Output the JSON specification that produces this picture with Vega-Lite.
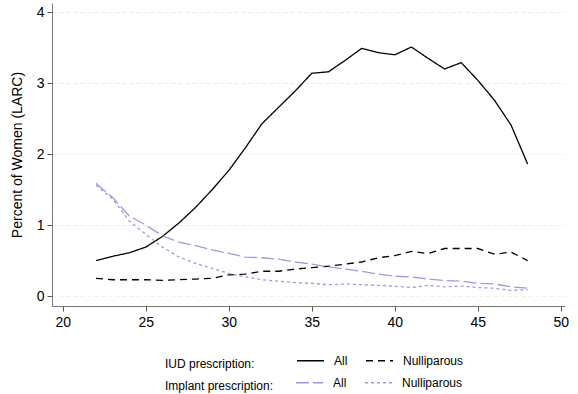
{
  "$schema": "https://vega.github.io/schema/vega-lite/v6.json",
  "width": 513,
  "height": 303,
  "autosize": "none",
  "padding": {"left": 52, "top": 3, "right": 13, "bottom": 88},
  "background": "white",
  "config": {
    "font": "Liberation Sans",
    "view": {"stroke": null},
    "axis": {"labelFont": "Liberation Sans", "titleFont": "Liberation Sans", "labelFontSize": 14, "titleFontSize": 14, "labelColor": "#000", "titleColor": "#000", "titleFontWeight": "normal", "domainColor": "#777", "tickColor": "#555", "tickSize": 5},
    "legend": {"labelFont": "Liberation Sans", "titleFont": "Liberation Sans"}
  },
  "datasets": {
    "d": [
      {"age":22,"type":"IUD","group":"All","v":0.50},{"age":23,"type":"IUD","group":"All","v":0.56},{"age":24,"type":"IUD","group":"All","v":0.61},{"age":25,"type":"IUD","group":"All","v":0.69},{"age":26,"type":"IUD","group":"All","v":0.84},{"age":27,"type":"IUD","group":"All","v":1.03},{"age":28,"type":"IUD","group":"All","v":1.25},{"age":29,"type":"IUD","group":"All","v":1.50},{"age":30,"type":"IUD","group":"All","v":1.77},{"age":31,"type":"IUD","group":"All","v":2.09},{"age":32,"type":"IUD","group":"All","v":2.43},{"age":33,"type":"IUD","group":"All","v":2.66},{"age":34,"type":"IUD","group":"All","v":2.89},{"age":35,"type":"IUD","group":"All","v":3.14},{"age":36,"type":"IUD","group":"All","v":3.16},{"age":37,"type":"IUD","group":"All","v":3.32},{"age":38,"type":"IUD","group":"All","v":3.49},{"age":39,"type":"IUD","group":"All","v":3.43},{"age":40,"type":"IUD","group":"All","v":3.40},{"age":41,"type":"IUD","group":"All","v":3.51},{"age":42,"type":"IUD","group":"All","v":3.35},{"age":43,"type":"IUD","group":"All","v":3.20},{"age":44,"type":"IUD","group":"All","v":3.29},{"age":45,"type":"IUD","group":"All","v":3.04},{"age":46,"type":"IUD","group":"All","v":2.76},{"age":47,"type":"IUD","group":"All","v":2.41},{"age":48,"type":"IUD","group":"All","v":1.86},
      {"age":22,"type":"IUD","group":"Nulliparous","v":0.25},{"age":23,"type":"IUD","group":"Nulliparous","v":0.23},{"age":24,"type":"IUD","group":"Nulliparous","v":0.23},{"age":25,"type":"IUD","group":"Nulliparous","v":0.23},{"age":26,"type":"IUD","group":"Nulliparous","v":0.22},{"age":27,"type":"IUD","group":"Nulliparous","v":0.23},{"age":28,"type":"IUD","group":"Nulliparous","v":0.24},{"age":29,"type":"IUD","group":"Nulliparous","v":0.25},{"age":30,"type":"IUD","group":"Nulliparous","v":0.30},{"age":31,"type":"IUD","group":"Nulliparous","v":0.31},{"age":32,"type":"IUD","group":"Nulliparous","v":0.35},{"age":33,"type":"IUD","group":"Nulliparous","v":0.35},{"age":34,"type":"IUD","group":"Nulliparous","v":0.38},{"age":35,"type":"IUD","group":"Nulliparous","v":0.40},{"age":36,"type":"IUD","group":"Nulliparous","v":0.42},{"age":37,"type":"IUD","group":"Nulliparous","v":0.45},{"age":38,"type":"IUD","group":"Nulliparous","v":0.48},{"age":39,"type":"IUD","group":"Nulliparous","v":0.54},{"age":40,"type":"IUD","group":"Nulliparous","v":0.57},{"age":41,"type":"IUD","group":"Nulliparous","v":0.63},{"age":42,"type":"IUD","group":"Nulliparous","v":0.60},{"age":43,"type":"IUD","group":"Nulliparous","v":0.67},{"age":44,"type":"IUD","group":"Nulliparous","v":0.67},{"age":45,"type":"IUD","group":"Nulliparous","v":0.67},{"age":46,"type":"IUD","group":"Nulliparous","v":0.59},{"age":47,"type":"IUD","group":"Nulliparous","v":0.62},{"age":48,"type":"IUD","group":"Nulliparous","v":0.50},
      {"age":22,"type":"Implant","group":"All","v":1.59},{"age":23,"type":"Implant","group":"All","v":1.39},{"age":24,"type":"Implant","group":"All","v":1.13},{"age":25,"type":"Implant","group":"All","v":1.00},{"age":26,"type":"Implant","group":"All","v":0.85},{"age":27,"type":"Implant","group":"All","v":0.76},{"age":28,"type":"Implant","group":"All","v":0.71},{"age":29,"type":"Implant","group":"All","v":0.65},{"age":30,"type":"Implant","group":"All","v":0.60},{"age":31,"type":"Implant","group":"All","v":0.55},{"age":32,"type":"Implant","group":"All","v":0.54},{"age":33,"type":"Implant","group":"All","v":0.52},{"age":34,"type":"Implant","group":"All","v":0.48},{"age":35,"type":"Implant","group":"All","v":0.45},{"age":36,"type":"Implant","group":"All","v":0.41},{"age":37,"type":"Implant","group":"All","v":0.38},{"age":38,"type":"Implant","group":"All","v":0.35},{"age":39,"type":"Implant","group":"All","v":0.31},{"age":40,"type":"Implant","group":"All","v":0.28},{"age":41,"type":"Implant","group":"All","v":0.27},{"age":42,"type":"Implant","group":"All","v":0.24},{"age":43,"type":"Implant","group":"All","v":0.22},{"age":44,"type":"Implant","group":"All","v":0.21},{"age":45,"type":"Implant","group":"All","v":0.18},{"age":46,"type":"Implant","group":"All","v":0.17},{"age":47,"type":"Implant","group":"All","v":0.13},{"age":48,"type":"Implant","group":"All","v":0.11},
      {"age":22,"type":"Implant","group":"Nulliparous","v":1.56},{"age":23,"type":"Implant","group":"Nulliparous","v":1.37},{"age":24,"type":"Implant","group":"Nulliparous","v":1.06},{"age":25,"type":"Implant","group":"Nulliparous","v":0.87},{"age":26,"type":"Implant","group":"Nulliparous","v":0.69},{"age":27,"type":"Implant","group":"Nulliparous","v":0.55},{"age":28,"type":"Implant","group":"Nulliparous","v":0.46},{"age":29,"type":"Implant","group":"Nulliparous","v":0.39},{"age":30,"type":"Implant","group":"Nulliparous","v":0.32},{"age":31,"type":"Implant","group":"Nulliparous","v":0.27},{"age":32,"type":"Implant","group":"Nulliparous","v":0.23},{"age":33,"type":"Implant","group":"Nulliparous","v":0.21},{"age":34,"type":"Implant","group":"Nulliparous","v":0.19},{"age":35,"type":"Implant","group":"Nulliparous","v":0.18},{"age":36,"type":"Implant","group":"Nulliparous","v":0.16},{"age":37,"type":"Implant","group":"Nulliparous","v":0.17},{"age":38,"type":"Implant","group":"Nulliparous","v":0.16},{"age":39,"type":"Implant","group":"Nulliparous","v":0.15},{"age":40,"type":"Implant","group":"Nulliparous","v":0.14},{"age":41,"type":"Implant","group":"Nulliparous","v":0.12},{"age":42,"type":"Implant","group":"Nulliparous","v":0.15},{"age":43,"type":"Implant","group":"Nulliparous","v":0.13},{"age":44,"type":"Implant","group":"Nulliparous","v":0.14},{"age":45,"type":"Implant","group":"Nulliparous","v":0.12},{"age":46,"type":"Implant","group":"Nulliparous","v":0.11},{"age":47,"type":"Implant","group":"Nulliparous","v":0.08},{"age":48,"type":"Implant","group":"Nulliparous","v":0.09}
    ]
  },
  "data": {"name": "d"},
  "encoding": {
    "x": {"field": "age", "type": "quantitative", "scale": {"domain": [19.35, 50.25], "nice": false, "zero": false},
      "axis": {"values": [20,25,30,35,40,45,50], "title": null, "grid": false, "labelPadding": 4}},
    "y": {"field": "v", "type": "quantitative", "scale": {"domain": [-0.14, 4.13], "nice": false, "zero": false},
      "axis": {"values": [0,1,2,3,4], "title": "Percent of Women (LARC)", "titlePadding": 12, "grid": true, "gridColor": "#e8e8e8", "gridDash": [4,3], "gridWidth": 0.8, "labelPadding": 3}}
  },
  "resolve": {"scale": {"strokeDash": "independent"}, "legend": {"strokeDash": "independent"}},
  "layer": [
    {
      "transform": [{"filter": "datum.type === 'IUD'"}],
      "mark": {"type": "line", "color": "#000", "strokeWidth": 1.3},
      "encoding": {
        "strokeDash": {"field": "group", "type": "nominal",
          "scale": {"domain": ["All", "Nulliparous"], "range": [[1,0],[7,5]]},
          "legend": {"title": "IUD prescription:", "orient": "none", "legendX": 113, "legendY": 343, "direction": "horizontal", "titleOrient": "left", "titleBaseline": "line-top", "titleLineHeight": 17, "titleFontSize": 12, "titleFontWeight": "normal", "titleColor": "#000", "titlePadding": 41, "labelFontSize": 12, "labelColor": "#000", "symbolType": "stroke", "symbolSize": 729, "symbolStrokeColor": "#000", "symbolStrokeWidth": 1.3, "labelOffset": 9, "columnPadding": 15}}
      }
    },
    {
      "transform": [{"filter": "datum.type === 'Implant'"}],
      "mark": {"type": "line", "color": "#9f98e0", "strokeWidth": 1.3},
      "encoding": {
        "strokeDash": {"field": "group", "type": "nominal",
          "scale": {"domain": ["All", "Nulliparous"], "range": [[13,4],[3,3]]},
          "legend": {"title": "Implant prescription:", "orient": "none", "legendX": 113, "legendY": 365, "direction": "horizontal", "titleOrient": "left", "titleBaseline": "line-top", "titleLineHeight": 17, "titleFontSize": 12, "titleFontWeight": "normal", "titleColor": "#000", "titlePadding": 21, "labelFontSize": 12, "labelColor": "#000", "symbolType": "stroke", "symbolSize": 729, "symbolStrokeColor": "#9f98e0", "symbolStrokeWidth": 1.3, "labelOffset": 9, "columnPadding": 15}}
      }
    }
  ]
}
